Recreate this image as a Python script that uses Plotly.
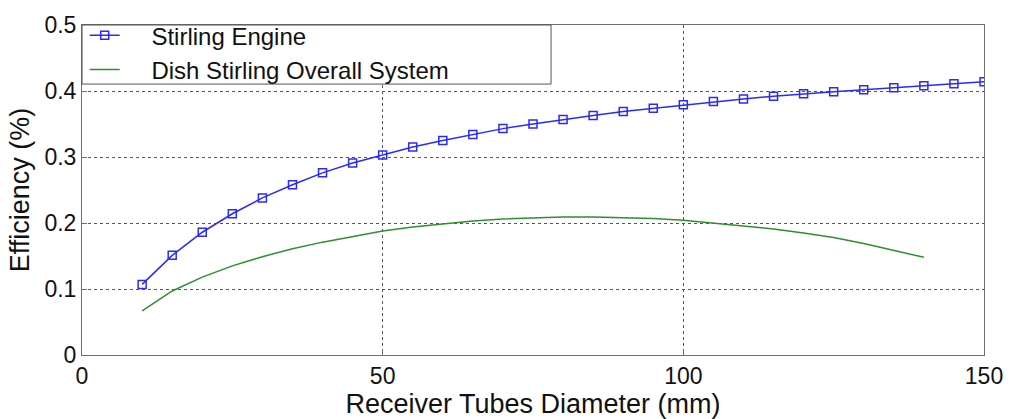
import plotly.graph_objects as go

# Receiver tube diameter (mm)
diameter_engine = [10, 15, 20, 25, 30, 35, 40, 45, 50, 55, 60, 65, 70, 75, 80,
                   85, 90, 95, 100, 105, 110, 115, 120, 125, 130, 135, 140, 145, 150]
eff_engine = [0.107, 0.151, 0.186, 0.214, 0.238, 0.258, 0.276, 0.291, 0.303, 0.315,
              0.325, 0.334, 0.343, 0.350, 0.357, 0.363, 0.369, 0.374, 0.379, 0.384,
              0.388, 0.392, 0.396, 0.399, 0.402, 0.405, 0.408, 0.411, 0.414]

diameter_system = [10, 15, 20, 25, 30, 35, 40, 45, 50, 55, 60, 65, 70, 75,
                   80, 85, 90, 95, 100, 105, 110, 115, 120, 125, 130, 135, 140]
eff_system = [0.067, 0.097, 0.118, 0.135, 0.149, 0.161, 0.171, 0.180, 0.188, 0.194,
              0.199, 0.203, 0.206, 0.208, 0.209, 0.209, 0.208, 0.207, 0.204, 0.200,
              0.196, 0.191, 0.185, 0.178, 0.169, 0.159, 0.148]

x_ticks = [0, 50, 100, 150]
y_ticks = [0, 0.1, 0.2, 0.3, 0.4, 0.5]

FONT = "Liberation Sans, Arial, sans-serif"
PAD = "\u00a0" * 4  # gap between legend sample and its label

fig = go.Figure()
fig.add_trace(go.Scatter(
    x=diameter_engine, y=eff_engine, mode="lines+markers",
    name=PAD + "Stirling Engine",
    line=dict(color="#2a2aff", width=1.5),
    marker=dict(symbol="square-open", size=8, color="#2a2aff", line=dict(width=1.5)),
))
fig.add_trace(go.Scatter(
    x=diameter_system, y=eff_system, mode="lines",
    name=PAD + "Dish Stirling Overall System",
    line=dict(color="#2f8f2f", width=1.5),
))

axis_common = dict(
    showline=True, linecolor="#6e6e6e", linewidth=1, mirror=True,
    showgrid=True, gridcolor="#555555", griddash="dot", gridwidth=1,
    zeroline=False, ticks="inside", ticklen=5, tickcolor="#6e6e6e",
    tickfont=dict(family=FONT, size=23, color="#111111"),
    title_font=dict(family=FONT, size=27, color="#111111"),
)

fig.update_xaxes(
    range=[0, 150], tickvals=x_ticks, ticktext=[str(v) for v in x_ticks],
    title_text="Receiver Tubes Diameter (mm)", title_standoff=0,
    **axis_common,
)
fig.update_yaxes(
    range=[0, 0.5], tickvals=y_ticks, ticktext=["0", "0.1", "0.2", "0.3", "0.4", "0.5"],
    title_text="Efficiency (%)", title_standoff=6,
    **axis_common,
)

# Legend frame (white panel with grey border, wider than the entries)
fig.add_shape(
    type="rect", xref="paper", yref="paper",
    x0=0, x1=0.520, y0=0.821, y1=1,
    fillcolor="white", line=dict(color="#555555", width=1), layer="above",
)

fig.update_layout(
    width=1015, height=419,
    margin=dict(l=82, r=24, t=22, b=56),
    paper_bgcolor="white", plot_bgcolor="white",
    font=dict(family=FONT, color="#111111"),
    showlegend=True,
    legend=dict(
        x=0.003, y=1.036, xanchor="left", yanchor="top",
        bgcolor="rgba(0,0,0,0)", borderwidth=0,
        font=dict(family=FONT, size=24, color="#111111"),
        itemwidth=30, tracegroupgap=0,
    ),
)

fig.write_html("out.html")
